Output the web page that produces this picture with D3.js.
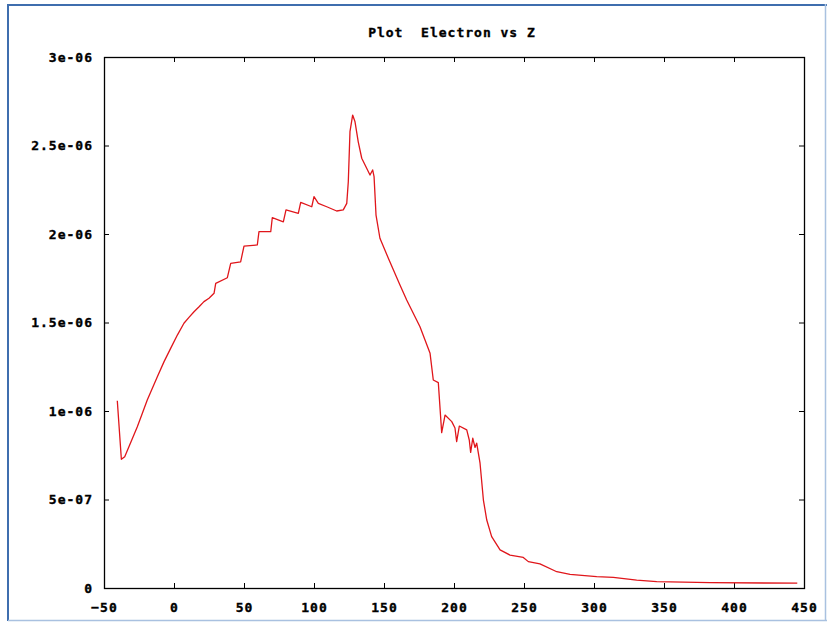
<!DOCTYPE html>
<html>
<head>
<meta charset="utf-8">
<script src="https://cdn.jsdelivr.net/npm/d3@7"></script>
<style>
  html, body { margin: 0; padding: 0; background: #fff; }
  svg { display: block; }
  text { font-family: "DejaVu Sans Mono", "Liberation Mono", monospace; font-weight: bold; font-size: 13px; letter-spacing: 1px; fill: #000; stroke: #000; stroke-width: 0.35px; white-space: pre; }
</style>
</head>
<body>
<svg id="chart" width="827" height="623"></svg>
<script>
// Position along Z
const zValues = [
  -40.5, -37.6, -35.2, -26.2, -22.6, -19.1, -11.9, -7.1, -2.4, 2.4, 7.1, 10.7, 14.3, 17.9, 21.4,
  25.0, 28.6, 29.8, 38.1, 40.5,
  47.6, 50.0, 59.5, 60.7, 69.1, 70.2, 78.1, 80.0, 88.8, 90.5, 98.4, 100.0, 103.1, 109.1,
  116.2, 120.9, 123.4, 124.5, 125.7, 127.6, 129.3, 131.6, 134.1, 140.0, 141.9, 142.9, 144.3,
  147.1, 153.1, 161.4, 166.2, 175.7, 179.3, 182.9, 185.2, 188.8, 191.2, 193.6, 198.4, 200.7,
  201.9, 203.8, 209.1, 210.9, 211.9, 213.4, 215.0, 216.2, 218.6, 221.0, 223.4, 226.9, 232.9,
  240.0, 249.5, 253.1, 261.4, 273.4, 282.9, 301.9, 313.8, 330.5, 344.8, 382.9, 445.2
];
// Electron density at each Z
const electronValues = [
  1.058e-6, 0.727e-6, 0.742e-6, 0.911e-6, 0.987e-6, 1.062e-6, 1.194e-6, 1.279e-6, 1.354e-6,
  1.429e-6, 1.496e-6, 1.529e-6, 1.561e-6, 1.589e-6, 1.618e-6, 1.637e-6, 1.665e-6, 1.721e-6,
  1.753e-6, 1.834e-6, 1.843e-6, 1.932e-6, 1.938e-6, 2.013e-6,
  2.013e-6, 2.092e-6, 2.069e-6, 2.136e-6, 2.117e-6, 2.179e-6, 2.154e-6, 2.211e-6, 2.173e-6,
  2.154e-6, 2.130e-6, 2.136e-6, 2.173e-6, 2.295e-6, 2.578e-6, 2.672e-6, 2.634e-6, 2.521e-6,
  2.428e-6, 2.333e-6, 2.362e-6, 2.324e-6, 2.107e-6, 1.976e-6, 1.863e-6, 1.712e-6, 1.627e-6,
  1.476e-6, 1.401e-6, 1.326e-6, 1.175e-6, 1.160e-6, 0.878e-6, 0.977e-6, 0.940e-6, 0.904e-6,
  0.827e-6, 0.915e-6, 0.893e-6, 0.836e-6, 0.766e-6, 0.846e-6, 0.794e-6, 0.818e-6, 0.705e-6,
  0.497e-6, 0.384e-6, 0.290e-6, 0.215e-6, 0.186e-6, 0.173e-6, 0.149e-6, 0.136e-6, 0.092e-6,
  0.077e-6, 0.064e-6, 0.060e-6, 0.045e-6, 0.036e-6, 0.030e-6, 0.027e-6
];
const xTicks = [-50, 0, 50, 100, 150, 200, 250, 300, 350, 400, 450];
const yTicks = [0, 5e-7, 1e-6, 1.5e-6, 2e-6, 2.5e-6, 3e-6];
const yTickLabels = ["0", "5e-07", "1e-06", "1.5e-06", "2e-06", "2.5e-06", "3e-06"];
const titleText = "Plot  Electron vs Z";

const svg = d3.select("#chart");
const W = 827, H = 623;
const plot = { left: 104, right: 804, top: 57, bottom: 588 };

// Outer window border
svg.append("line").attr("x1", 8).attr("x2", W).attr("y1", 5).attr("y2", 5)
  .attr("stroke", "#3f6eae").attr("stroke-width", 2);
svg.append("line").attr("x1", 8).attr("x2", 8).attr("y1", 4).attr("y2", 621)
  .attr("stroke", "#3f6eae").attr("stroke-width", 2);
svg.append("line").attr("x1", 8).attr("x2", W).attr("y1", 620.5).attr("y2", 620.5)
  .attr("stroke", "#a9c1e0").attr("stroke-width", 1.5);
svg.append("line").attr("x1", 825.5).attr("x2", 825.5).attr("y1", 4).attr("y2", 621)
  .attr("stroke", "#a9c1e0").attr("stroke-width", 1.5);

const x = d3.scaleLinear().domain([-50, 450]).range([plot.left, plot.right]);
const y = d3.scaleLinear().domain([0, 3e-6]).range([plot.bottom, plot.top]);

const tickLen = 5;
const axisColor = "#000";

// Ticks on all four sides, pointing inward
const bottomAxis = d3.axisBottom(x).tickValues(xTicks).tickSizeInner(-tickLen).tickSizeOuter(0)
  .tickPadding(14).tickFormat(d3.format("d"));
const topAxis = d3.axisTop(x).tickValues(xTicks).tickSizeInner(-tickLen).tickSizeOuter(0).tickFormat("");
const leftAxis = d3.axisLeft(y).tickValues(yTicks).tickSizeInner(-tickLen).tickSizeOuter(0)
  .tickPadding(16).tickFormat((d, i) => yTickLabels[i]);
const rightAxis = d3.axisRight(y).tickValues(yTicks).tickSizeInner(-tickLen).tickSizeOuter(0).tickFormat("");

function styleAxis(g) {
  g.select(".domain").remove();
  g.selectAll(".tick line").attr("stroke", axisColor).attr("stroke-width", 1);
  g.selectAll("text").attr("font-family", null).attr("font-size", null).attr("fill", "#000");
}

svg.append("g").attr("transform", `translate(0,${plot.bottom})`).call(bottomAxis).call(styleAxis)
  .selectAll("text").attr("dy", "0.35em").attr("y", 19);
svg.append("g").attr("transform", `translate(0,${plot.top})`).call(topAxis).call(styleAxis);
svg.append("g").attr("transform", `translate(${plot.left},0)`).call(leftAxis).call(styleAxis)
  .selectAll("text").attr("x", -11);
svg.append("g").attr("transform", `translate(${plot.right},0)`).call(rightAxis).call(styleAxis);

// Plot frame
svg.append("rect")
  .attr("x", plot.left + 0.5).attr("y", plot.top + 0.5)
  .attr("width", plot.right - plot.left).attr("height", plot.bottom - plot.top)
  .attr("fill", "none").attr("stroke", axisColor).attr("stroke-width", 1.3);

// Data curve
const points = zValues.map((z, i) => [z, electronValues[i]]);
const line = d3.line().x(d => x(d[0])).y(d => y(d[1]));
svg.append("path").datum(points)
  .attr("d", line)
  .attr("fill", "none")
  .attr("stroke", "#e0161b")
  .attr("stroke-width", 1.3)
  .attr("stroke-linejoin", "round");

// Title
svg.append("text")
  .attr("x", (plot.left + plot.right) / 2 - 2)
  .attr("y", 37)
  .attr("text-anchor", "middle")
  .text(titleText);
</script>
</body>
</html>
